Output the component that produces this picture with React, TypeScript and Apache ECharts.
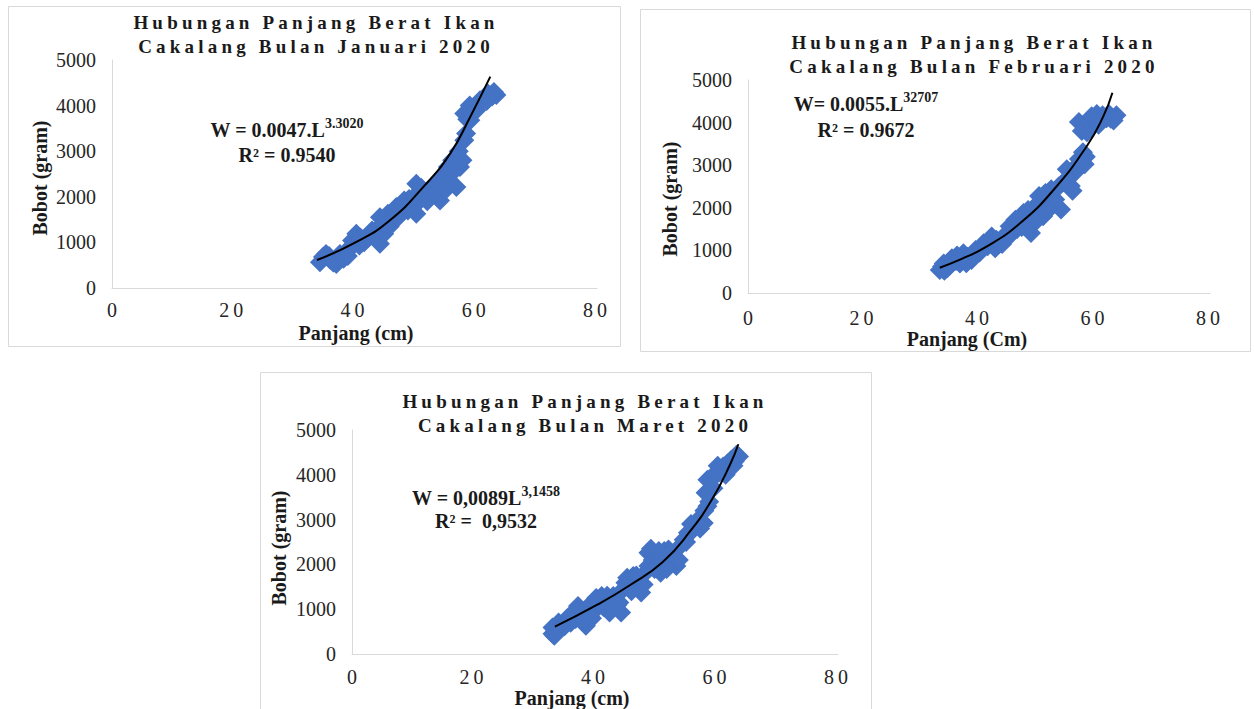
import React, { useEffect, useRef } from "react";
import * as echarts from "echarts";

const FONT = '"Liberation Serif", "Times New Roman", serif';
const BLUE = "#4472C4";

// ---------- data ----------
const titleJan = ["Hubungan Panjang Berat Ikan", "Cakalang Bulan Januari 2020"];
const titleFeb = ["Hubungan Panjang Berat Ikan", "Cakalang Bulan Februari 2020"];
const titleMar = ["Hubungan Panjang Berat Ikan", "Cakalang Bulan Maret 2020"];

const eqJan = ["W = 0.0047.L", "3.3020", "R² = 0.9540"];
const eqFeb = ["W= 0.0055.L", "32707", "R² = 0.9672"];
const eqMar = ["W = 0,0089L", "3,1458", "R² =  0,9532"];

const xTitleJan = "Panjang (cm)";
const xTitleFeb = "Panjang (Cm)";
const xTitleMar = "Panjang (cm)";
const yTitle = "Bobot (gram)";

const xTickLabels = ["0", "20", "40", "60", "80"];
const yTickLabels = ["0", "1000", "2000", "3000", "4000", "5000"];

const janPoints = [
  [34.3, 565], [34.8, 680], [35.3, 748], [36.0, 620], [37.0, 528], [37.6, 748], [38.2, 640],
  [38.9, 700], [39.6, 1041], [40.3, 1188], [40.8, 930], [41.6, 1004], [42.3, 1100], [42.9, 1261],
  [43.5, 1150], [44.2, 968], [44.9, 1188], [44.2, 1554], [45.5, 1628], [45.8, 1350], [46.3, 1500],
  [46.9, 1774], [47.5, 1628], [48.2, 1921], [48.8, 1700], [49.5, 1800], [50.2, 1628], [50.2, 2287],
  [50.8, 1921], [51.5, 2067], [52.2, 2150], [52.8, 2214], [53.5, 2287], [54.1, 1921], [54.8, 2507],
  [55.4, 2654], [55.4, 2300], [56.1, 2800], [56.8, 2214], [56.8, 2874], [57.4, 2654], [58.1, 3240],
  [58.4, 3387], [58.1, 3827], [58.6, 3700], [59.1, 3680], [59.6, 3950], [60.1, 3900], [60.7, 4120],
  [61.3, 4150], [62.0, 4267], [62.7, 4200], [63.4, 4230],
  [35.8, 700], [36.5, 560], [39.2, 880], [40.0, 960], [41.0, 1100], [43.8, 1300], [45.0, 1400],
  [47.2, 1550], [47.8, 1850], [49.0, 1950], [49.8, 2000], [51.0, 2200], [52.0, 1900], [53.0, 2050],
  [53.9, 2350], [55.0, 2150], [56.3, 2550], [57.2, 3000], [57.8, 2800], [59.0, 4000], [60.4, 4050],
  [61.8, 4100], [63.0, 4300],
];
const febPoints = [
  [33.2, 537], [33.6, 620], [33.9, 695], [34.5, 580], [35.3, 814], [36.0, 750], [36.7, 695],
  [37.3, 932], [38.0, 850], [38.7, 774], [39.4, 1011], [40.1, 950], [40.8, 1169], [41.5, 1100],
  [42.2, 1327], [42.8, 1050], [43.5, 1150], [44.2, 1248], [44.8, 1400], [45.3, 1564], [45.8, 1450],
  [46.3, 1722], [47.0, 1650], [47.7, 1880], [48.3, 1750], [49.0, 1406], [49.7, 2038], [50.4, 2275],
  [50.8, 2000], [51.1, 1801], [51.8, 2200], [52.5, 2433], [53.2, 2196], [54.2, 1959], [54.6, 2600],
  [55.2, 2907], [55.9, 2512], [56.6, 2828], [57.3, 3144], [58.0, 3302], [58.3, 3025], [57.3, 4013],
  [57.8, 3800], [58.7, 3776], [59.2, 4000], [60.0, 4092], [60.7, 3950], [61.4, 4171], [62.1, 4100],
  [62.8, 4092], [63.8, 4171],
  [34.0, 520], [35.0, 650], [36.2, 880], [37.8, 700], [39.0, 900], [40.5, 1050], [41.8, 1250],
  [43.0, 1250], [44.0, 1150], [45.0, 1300], [46.6, 1500], [47.4, 1550], [48.5, 1950], [49.3, 1650],
  [50.0, 1700], [51.5, 2350], [52.0, 1950], [53.8, 2500], [55.5, 2700], [56.2, 2400], [57.0, 3000],
  [58.5, 3200], [59.5, 4150], [60.4, 4200], [61.0, 4050], [62.5, 4200], [63.3, 4050],
];
const marPoints = [
  [33.0, 450], [33.0, 593], [33.3, 407], [34.0, 704], [34.6, 650], [35.3, 778], [36.0, 700],
  [36.5, 926], [37.2, 1074], [37.8, 850], [38.5, 630], [39.1, 926], [39.8, 1148], [40.5, 1050],
  [41.1, 1296], [41.8, 1200], [42.4, 926], [43.0, 1296], [43.7, 1100], [44.3, 926], [45.0, 1593],
  [45.6, 1500], [46.3, 1741], [47.0, 1600], [47.6, 1370], [48.2, 1800], [48.8, 1963], [48.8, 2259],
  [49.5, 2100], [50.1, 2185], [50.8, 1815], [51.4, 2300], [52.1, 2333], [52.7, 2100], [53.4, 1963],
  [54.0, 2407], [54.6, 2550], [55.3, 2704], [56.0, 2750], [56.6, 2852], [57.3, 2800], [57.9, 2926],
  [58.5, 3296], [58.2, 3600], [58.5, 3889], [59.2, 3900], [59.8, 4037], [60.5, 4050], [61.1, 4185],
  [61.8, 4250], [62.4, 4333], [63.0, 4300], [63.7, 4407],
  [33.5, 520], [34.3, 560], [35.0, 620], [35.8, 850], [36.8, 780], [37.6, 1000], [38.2, 750],
  [38.8, 1050], [39.5, 800], [40.2, 1250], [41.4, 1050], [42.0, 1300], [42.7, 1100], [44.0, 1150],
  [44.7, 1450], [45.3, 1700], [46.0, 1400], [46.8, 1750], [48.0, 1550], [49.2, 2350], [49.8, 1900],
  [50.5, 2300], [51.0, 2000], [51.8, 1900], [52.4, 2250], [53.2, 2150], [53.8, 2100], [55.0, 2500],
  [55.8, 2900], [57.0, 3000], [58.0, 3200], [58.8, 3400], [59.5, 3700], [60.2, 4200], [61.5, 4000],
  [62.8, 4200], [63.3, 4450],
];

const janTrend = [[33.8, 614], [40.4, 1015], [45.9, 1491], [51.4, 2222], [55.8, 2953], [59.1, 3757], [62.4, 4634]];
const febTrend = [[33.2, 594], [37.0, 800], [41.3, 1087], [47.1, 1636], [52.9, 2418], [58.6, 3434], [61.5, 4139], [63.1, 4702]];
const marTrend = [[33.4, 609], [40.3, 1094], [45.8, 1540], [51.2, 2060], [55.6, 2730], [59.2, 3437], [62.2, 4219], [63.6, 4681]];

// ---------- layout ----------
const panels = [
  {
    title: titleJan, eq: eqJan, xTitle: xTitleJan, points: janPoints, trend: janTrend,
    box: [8, 6, 612, 340], grid: { left: 112, top: 60, width: 485, height: 228 },
    titleX: 316, titleY: [22, 46], eqX: 287, eqY: [130, 155], xTitleXY: [356, 333], yTitleXY: [40, 178],
    xLabelMargin: 14,
  },
  {
    title: titleFeb, eq: eqFeb, xTitle: xTitleFeb, points: febPoints, trend: febTrend,
    box: [640, 9, 610, 342], grid: { left: 748, top: 80, width: 462, height: 213 },
    titleX: 974, titleY: [42, 66], eqX: 866, eqY: [104, 130], xTitleXY: [967, 339], yTitleXY: [670, 199],
    xLabelMargin: 17,
  },
  {
    title: titleMar, eq: eqMar, xTitle: xTitleMar, points: marPoints, trend: marTrend,
    box: [260, 372, 611, 360], grid: { left: 352, top: 430, width: 486, height: 224 },
    titleX: 585, titleY: [401, 425], eqX: 486, eqY: [498, 521], xTitleXY: [572, 698], yTitleXY: [279, 548],
    xLabelMargin: 15,
  },
];

const spacing: Record<string, string> = {};
[...titleJan, ...titleFeb, ...titleMar].forEach((t) => (spacing[t] = "4.2px"));
xTickLabels.slice(1).forEach((t) => (spacing[t] = "4px"));

function buildOption() {
  const grids: any[] = [];
  const xAxes: any[] = [];
  const yAxes: any[] = [];
  const series: any[] = [];
  const graphics: any[] = [];

  panels.forEach((p, i) => {
    grids.push({ ...p.grid, containLabel: false });
    xAxes.push({
      type: "value", gridIndex: i, min: 0, max: 80, interval: 20,
      axisLine: { show: true, onZero: false, lineStyle: { color: "#d9d9d9", width: 1 } },
      axisTick: { show: false }, splitLine: { show: false },
      axisLabel: {
        margin: p.xLabelMargin, fontFamily: FONT, fontSize: 20, lineHeight: 16, color: "#262626",
        formatter: (v: number) => xTickLabels[Math.round(v / 20)] ?? String(v),
      },
    });
    yAxes.push({
      type: "value", gridIndex: i, min: 0, max: 5000, interval: 1000,
      axisLine: { show: true, lineStyle: { color: "#d9d9d9", width: 1 } },
      axisTick: { show: false }, splitLine: { show: false },
      axisLabel: {
        margin: 16, fontFamily: FONT, fontSize: 20, color: "#262626",
        formatter: (v: number) => yTickLabels[Math.round(v / 1000)] ?? String(v),
      },
    });
    series.push({
      type: "scatter", xAxisIndex: i, yAxisIndex: i, data: p.points,
      symbol: "diamond", symbolSize: 20, itemStyle: { color: BLUE, opacity: 1 },
      emphasis: { disabled: true }, z: 2,
    });
    series.push({
      type: "line", xAxisIndex: i, yAxisIndex: i, data: p.trend, smooth: true,
      showSymbol: false, symbol: "none", lineStyle: { color: "#000", width: 2 },
      emphasis: { disabled: true }, z: 3,
    });

    const [bx, by, bw, bh] = p.box;
    graphics.push({
      type: "rect", shape: { x: bx + 0.5, y: by + 0.5, width: bw, height: bh },
      style: { fill: "none", stroke: "#d9d9d9", lineWidth: 1 }, silent: true, z: -1,
    });
    p.title.forEach((t, k) => {
      graphics.push({
        type: "text", x: p.titleX, y: p.titleY[k], silent: true,
        style: { text: t, fontFamily: FONT, fontSize: 19, fontWeight: "bold", fill: "#1a1a1a", align: "center", verticalAlign: "middle" },
      });
    });
    graphics.push({
      type: "text", x: p.eqX, y: p.eqY[0], silent: true, z: 10,
      style: {
        text: `{a|${p.eq[0]}}{b|${p.eq[1]}}`, align: "center", verticalAlign: "middle", fill: "#1a1a1a",
        rich: {
          a: { fontFamily: FONT, fontSize: 20, fontWeight: "bold", fill: "#1a1a1a", lineHeight: 20 },
          b: { fontFamily: FONT, fontSize: 14, fontWeight: "bold", fill: "#1a1a1a", lineHeight: 14, padding: [0, 0, 14, 0] },
        },
      },
    });
    graphics.push({
      type: "text", x: p.eqX, y: p.eqY[1], silent: true, z: 10,
      style: { text: p.eq[2], fontFamily: FONT, fontSize: 20, fontWeight: "bold", fill: "#1a1a1a", align: "center", verticalAlign: "middle" },
    });
    graphics.push({
      type: "text", x: p.xTitleXY[0], y: p.xTitleXY[1], silent: true,
      style: { text: p.xTitle, fontFamily: FONT, fontSize: 20, lineHeight: 18, fontWeight: "bold", fill: "#1a1a1a", align: "center", verticalAlign: "middle" },
    });
    graphics.push({
      type: "text", x: p.yTitleXY[0], y: p.yTitleXY[1], rotation: Math.PI / 2, silent: true,
      style: { text: yTitle, fontFamily: FONT, fontSize: 20, fontWeight: "bold", fill: "#1a1a1a", align: "center", verticalAlign: "middle" },
    });
  });

  return {
    animation: false,
    backgroundColor: "#ffffff",
    grid: grids,
    xAxis: xAxes,
    yAxis: yAxes,
    series,
    graphic: graphics,
  };
}

export default function App() {
  const ref = useRef<HTMLDivElement>(null);
  useEffect(() => {
    if (!ref.current) return;
    const el = ref.current;
    const chart = echarts.init(el, undefined, { renderer: "svg" });
    const applySpacing = () => {
      el.querySelectorAll("text").forEach((t) => {
        const ls = spacing[(t.textContent || "").trim()];
        if (ls) t.setAttribute("letter-spacing", ls);
      });
    };
    chart.on("finished", applySpacing);
    chart.setOption(buildOption());
    applySpacing();
    const id = window.setTimeout(applySpacing, 50);
    return () => {
      window.clearTimeout(id);
      chart.dispose();
    };
  }, []);
  return (
    <div
      ref={ref}
      style={{ position: "fixed", left: 0, top: 0, width: 1254, height: 709, background: "#fff" }}
    />
  );
}
